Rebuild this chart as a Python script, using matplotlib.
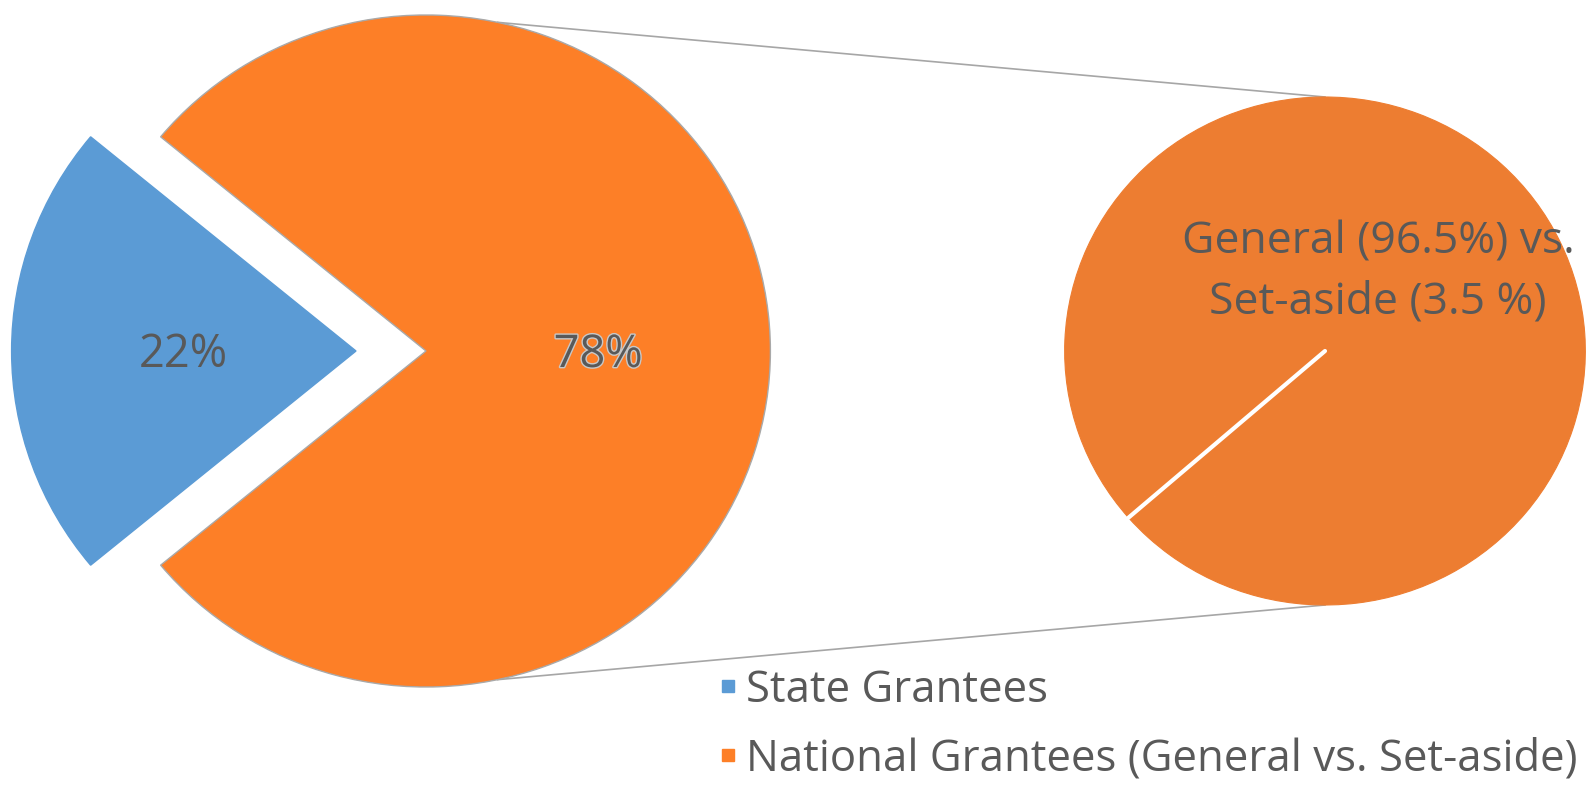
import numpy as np
import matplotlib
matplotlib.use("Agg")
import matplotlib.pyplot as plt
import matplotlib.patheffects as pe
from matplotlib.lines import Line2D

plt.rcParams['font.family'] = ['Open Sans', 'DejaVu Sans']

# data
main_labels = ["State Grantees", "National Grantees (General vs. Set-aside)"]
main_values = [22, 78]
sub_labels = ["General", "Set-aside"]
sub_values = [96.5, 3.5]

blue = "#5b9bd5"
orange = "#fd7f27"
orange_sub = "#ed7d31"
text_grey = "#595959"

W, H = 1590, 786
sx = 1.025  # the original picture is slightly stretched sideways
fig = plt.figure(figsize=(W / 100, H / 100), dpi=100)
ax = fig.add_axes([0, 0, 1, 1])

# left pie (data coords: pixels / sx horizontally, y up)
c1 = (426 / sx, H - 351)
r1 = 336
wedges1, _, autotexts = ax.pie(
    main_values, colors=[blue, orange], startangle=180 - main_values[0] * 1.8,
    explode=[70 / sx, 0], center=c1, radius=r1, autopct='%1.0f%%', pctdistance=0.5,
    wedgeprops=dict(edgecolor="#a9a9a9", linewidth=1.0),
    textprops=dict(color=text_grey, fontsize=32.5))
wedges1[0].set_edgecolor(blue)
for t in autotexts:
    x, y = t.get_position()
    t.set_position((x, y - 4))
autotexts[1].set_path_effects([pe.withStroke(linewidth=2, foreground="#c8c8c8")])

# right pie (breakdown of the national grantees)
c2 = (1325 / sx, H - 351)
r2 = 254
wedges2, _ = ax.pie(
    sub_values, colors=[orange_sub, orange_sub], startangle=221 - sub_values[0] * 3.6,
    center=c2, radius=r2, wedgeprops=dict(edgecolor=orange_sub, linewidth=0.8))
th = np.deg2rad(wedges2[1].theta1)
ax.plot([c2[0], c2[0] + r2 * np.cos(th)], [c2[1], c2[1] + r2 * np.sin(th)],
        color="white", lw=3, solid_capstyle="round")

ax.text(1378 / sx, H - 272,
        f"{sub_labels[0]} ({sub_values[0]}%) vs.\n{sub_labels[1]} ({sub_values[1]} %)",
        ha="center", va="center", color=text_grey, fontsize=32, linespacing=1.46)

# connector lines
for a, b in [(78, 90), (-78, -90)]:
    p1 = (c1[0] + r1 * np.cos(np.deg2rad(a)), c1[1] + r1 * np.sin(np.deg2rad(a)))
    p2 = (c2[0] + r2 * np.cos(np.deg2rad(b)), c2[1] + r2 * np.sin(np.deg2rad(b)))
    ax.plot([p1[0], p2[0]], [p1[1], p2[1]], color="#a6a6a6", lw=1.2, zorder=0)

ax.set_xlim(0, W / sx)
ax.set_ylim(0, H)
ax.set_aspect("auto")
ax.axis("off")

handles = [Line2D([], [], marker="s", ls="", color=c, markersize=9) for c in [blue, orange]]
fig.legend(handles, main_labels, loc="upper left", bbox_to_anchor=(717 / W, 1 - 668 / H),
           frameon=False, fontsize=31.5, labelcolor=text_grey, handlelength=0.5,
           handletextpad=0.17, labelspacing=0.55, borderpad=0, borderaxespad=0)

fig.savefig("out.png", dpi=100)
